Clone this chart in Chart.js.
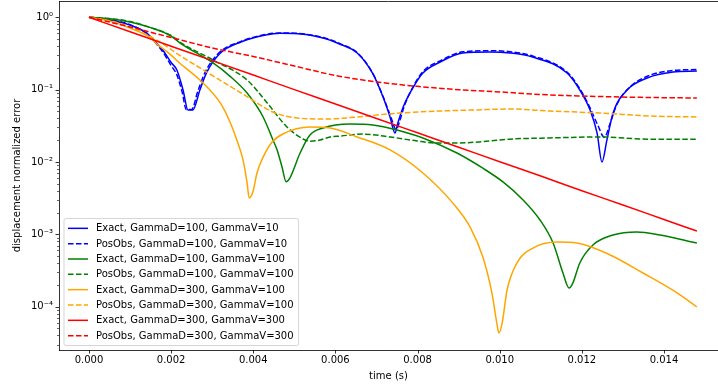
<!DOCTYPE html>
<html>
<head>
<meta charset="utf-8">
<script src="https://cdn.jsdelivr.net/npm/chart.js@4.4.1/dist/chart.umd.min.js"></script>
<style>
  html, body { margin: 0; padding: 0; background: #fff; }
  canvas { display: block; }
</style>
</head>
<body>
<canvas id="errChart" width="718" height="387"></canvas>
<script>
// x tick positions (s) and y decades
var xTicks = [0, 0.002, 0.004, 0.006, 0.008, 0.010, 0.012, 0.014];
var yTicks = [1e-4, 1e-3, 1e-2, 1e-1, 1];
var yTickLabels = ['10\u207B\u2074', '10\u207B\u00B3', '10\u207B\u00B2', '10\u207B\u00B9', '10\u2070'];

var labels = [
  'Exact, GammaD=100, GammaV=10',
  'PosObs, GammaD=100, GammaV=10',
  'Exact, GammaD=100, GammaV=100',
  'PosObs, GammaD=100, GammaV=100',
  'Exact, GammaD=300, GammaV=100',
  'PosObs, GammaD=300, GammaV=100',
  'Exact, GammaD=300, GammaV=300',
  'PosObs, GammaD=300, GammaV=300'
];

// Exact, GammaD=100, GammaV=10
var exactD100V10_t = [0, 0.0005, 0.001, 0.0014, 0.0016, 0.0018, 0.002, 0.00214, 0.00229, 0.00241, 0.00253, 0.0027, 0.00287, 0.0032, 0.0037, 0.0043, 0.00465, 0.005, 0.0057, 0.0061, 0.00653, 0.0069, 0.00716, 0.00733, 0.00745, 0.00752, 0.00765, 0.0079, 0.00813, 0.00855, 0.0091, 0.00976, 0.01025, 0.0108, 0.01164, 0.01195, 0.0122, 0.01237, 0.01249, 0.01261, 0.01276, 0.0131, 0.01359, 0.01422, 0.0148];
var exactD100V10_v = [1, 0.92, 0.78, 0.61, 0.47, 0.35, 0.237, 0.187, 0.099, 0.0523, 0.0523, 0.099, 0.175, 0.321, 0.456, 0.569, 0.60, 0.597, 0.518, 0.428, 0.321, 0.17, 0.079, 0.0419, 0.0252, 0.0346, 0.0576, 0.109, 0.17, 0.241, 0.321, 0.331, 0.321, 0.282, 0.17, 0.0989, 0.0523, 0.0252, 0.01, 0.0201, 0.0475, 0.0989, 0.145, 0.175, 0.181];

// PosObs, GammaD=100, GammaV=10
var posD100V10_t = [0, 0.0005, 0.001, 0.0014, 0.0016, 0.0018, 0.002, 0.00214, 0.00227, 0.00237, 0.0025, 0.00265, 0.00283, 0.00317, 0.0037, 0.0043, 0.00465, 0.005, 0.0057, 0.0061, 0.00653, 0.0069, 0.00716, 0.00735, 0.00748, 0.00756, 0.00768, 0.0079, 0.00813, 0.00855, 0.0091, 0.00976, 0.01025, 0.0108, 0.01164, 0.01195, 0.0122, 0.01238, 0.01255, 0.01268, 0.01285, 0.01315, 0.01359, 0.01422, 0.0148];
var posD100V10_v = [1, 0.93, 0.79, 0.60, 0.46, 0.33, 0.215, 0.16, 0.092, 0.053, 0.053, 0.095, 0.175, 0.325, 0.465, 0.578, 0.607, 0.603, 0.525, 0.435, 0.325, 0.172, 0.08, 0.042, 0.028, 0.036, 0.06, 0.112, 0.178, 0.25, 0.333, 0.345, 0.335, 0.292, 0.175, 0.103, 0.056, 0.033, 0.022, 0.033, 0.062, 0.106, 0.153, 0.184, 0.19];

// Exact, GammaD=100, GammaV=100
var exactD100V100_t = [0, 0.0005, 0.001, 0.0015, 0.002, 0.00222, 0.00302, 0.00343, 0.00385, 0.00424, 0.00448, 0.00458, 0.0047, 0.0048, 0.00489, 0.00514, 0.00538, 0.0057, 0.00635, 0.00691, 0.0075, 0.00813, 0.00896, 0.00959, 0.01008, 0.01057, 0.01098, 0.0113, 0.01154, 0.01169, 0.01178, 0.01195, 0.01227, 0.01276, 0.01334, 0.0139, 0.0148];
var exactD100V100_v = [1, 0.955, 0.861, 0.72, 0.551, 0.441, 0.234, 0.154, 0.0899, 0.0419, 0.0201, 0.0147, 0.00853, 0.00534, 0.006, 0.0133, 0.0236, 0.0295, 0.0335, 0.0325, 0.0277, 0.0215, 0.0133, 0.0082, 0.0053, 0.00298, 0.00158, 0.00076, 0.000292, 0.000181, 0.000212, 0.000402, 0.000713, 0.00098, 0.00108, 0.00098, 0.00076];

// PosObs, GammaD=100, GammaV=100
var posD100V100_t = [0, 0.0005, 0.001, 0.0015, 0.002, 0.00222, 0.00302, 0.00385, 0.00434, 0.00482, 0.00521, 0.00538, 0.00562, 0.00587, 0.00611, 0.00667, 0.00733, 0.00799, 0.00847, 0.00896, 0.00976, 0.01025, 0.01122, 0.01244, 0.01366, 0.0148];
var posD100V100_v = [1, 0.96, 0.875, 0.72, 0.56, 0.45, 0.257, 0.136, 0.0654, 0.0305, 0.0208, 0.0193, 0.0201, 0.0222, 0.0228, 0.0243, 0.0222, 0.0195, 0.0183, 0.0183, 0.0195, 0.0207, 0.0215, 0.0222, 0.0207, 0.0207];

// Exact, GammaD=300, GammaV=100
var exactD300V100_t = [0, 0.0005, 0.001, 0.0015, 0.00163, 0.002, 0.0022, 0.0027, 0.0032, 0.00343, 0.0036, 0.00375, 0.00385, 0.0039, 0.00399, 0.00409, 0.00424, 0.00446, 0.00472, 0.00538, 0.00587, 0.00653, 0.00733, 0.00813, 0.00886, 0.00928, 0.00959, 0.00981, 0.00993, 0.00998, 0.01006, 0.01018, 0.01042, 0.01081, 0.0114, 0.01188, 0.01269, 0.01349, 0.01432, 0.0148];
var exactD300V100_v = [1, 0.889, 0.711, 0.52, 0.44, 0.30, 0.235, 0.136, 0.065, 0.036, 0.0201, 0.0107, 0.00513, 0.00318, 0.00385, 0.00705, 0.0117, 0.0189, 0.0244, 0.0305, 0.0296, 0.0222, 0.0147, 0.00705, 0.0027, 0.00126, 0.000486, 0.000155, 0.0000594, 0.0000433, 0.0000594, 0.00017, 0.000402, 0.000647, 0.000783, 0.00076, 0.000519, 0.000292, 0.000155, 0.000099];

// PosObs, GammaD=300, GammaV=100
var posD300V100_t = [0, 0.0005, 0.001, 0.00166, 0.0022, 0.00302, 0.00385, 0.00448, 0.00507, 0.0058, 0.00653, 0.00701, 0.00757, 0.00855, 0.00935, 0.01025, 0.01122, 0.01244, 0.01366, 0.0148];
var posD300V100_v = [1, 0.9, 0.734, 0.48, 0.30, 0.155, 0.08, 0.049, 0.0406, 0.0393, 0.0419, 0.0446, 0.0475, 0.0507, 0.0523, 0.054, 0.0507, 0.0475, 0.0432, 0.0419];

// Exact, GammaD=300, GammaV=300
var exactD300V300_t = [0, 0.001, 0.002, 0.003, 0.004, 0.005, 0.006, 0.007, 0.008, 0.009, 0.010, 0.011, 0.012, 0.013, 0.014, 0.0148];
var exactD300V300_v = [1, 0.631, 0.398, 0.252, 0.159, 0.1, 0.0635, 0.040, 0.0253, 0.016, 0.0101, 0.0064, 0.0040, 0.00255, 0.0016, 0.00111];

// PosObs, GammaD=300, GammaV=300
var posD300V300_t = [0, 0.0005, 0.001, 0.002, 0.003, 0.004, 0.005, 0.006, 0.007, 0.008, 0.009, 0.010, 0.011, 0.012, 0.013, 0.014, 0.0148];
var posD300V300_v = [1, 0.86, 0.734, 0.526, 0.377, 0.287, 0.212, 0.157, 0.128, 0.111, 0.1, 0.093, 0.0857, 0.0817, 0.079, 0.0775, 0.0767];

var series = [
  [exactD100V10_t, exactD100V10_v, 'blue', false],
  [posD100V10_t, posD100V10_v, 'blue', true],
  [exactD100V100_t, exactD100V100_v, 'green', false],
  [posD100V100_t, posD100V100_v, 'green', true],
  [exactD300V100_t, exactD300V100_v, 'orange', false],
  [posD300V100_t, posD300V100_v, 'orange', true],
  [exactD300V300_t, exactD300V300_v, 'red', false],
  [posD300V300_t, posD300V300_v, 'red', true]
];

var DASH = [5.55, 2.4];
var FONT = { family: '"DejaVu Sans"', size: 10 };

var datasets = series.map(function(s, i) {
  return {
    label: labels[i],
    data: s[0].map(function(t, k) { return { x: t, y: s[1][k] }; }),
    borderColor: s[2],
    backgroundColor: s[2],
    borderWidth: 1.5,
    borderDash: s[3] ? DASH : [],
    borderJoinStyle: 'round',
    fill: false,
    pointRadius: 0,
    cubicInterpolationMode: 'monotone',
    order: series.length - i
  };
});

function isMajorY(v) {
	return yTicks.findIndex(function(t) { return Math.abs(t / v - 1) < 1e-6; });
}

// tick marks + top spine (matplotlib style: major 3.5px, minor 2px)
var axisDecor = {
	id: 'axisDecor',
	afterDraw: function(chart) {
		var ctx = chart.ctx, xs = chart.scales.x, ys = chart.scales.y, a = chart.chartArea;
		ctx.save();
		ctx.strokeStyle = '#000';
		ctx.lineWidth = 0.8;
		xs.ticks.forEach(function(t) {
			var p = Math.round(xs.getPixelForValue(t.value)) + 0.5;
			ctx.beginPath(); ctx.moveTo(p, a.bottom); ctx.lineTo(p, a.bottom + 3.5); ctx.stroke();
		});
		ys.ticks.forEach(function(t) {
			var p = Math.round(ys.getPixelForValue(t.value)) + 0.5;
			var major = isMajorY(t.value) >= 0;
			ctx.lineWidth = major ? 0.8 : 0.6;
			ctx.beginPath(); ctx.moveTo(a.left, p); ctx.lineTo(a.left - (major ? 3.5 : 2), p); ctx.stroke();
		});
		ctx.lineWidth = 0.8;
		ctx.beginPath(); ctx.moveTo(a.left, a.top + 0.5); ctx.lineTo(a.right, a.top + 0.5); ctx.stroke();
		ctx.restore();
	}
};

// legend box in the lower left corner of the axes
var legendBox = {
	id: 'legendBox',
	afterDatasetsDraw: function(chart) {
		var ctx = chart.ctx, a = chart.chartArea;
		var ds = chart.data.datasets;
		var rowH = 15.33, pad = 4;
		ctx.save();
		ctx.font = '10px "DejaVu Sans"';
		var textW = 0;
		ds.forEach(function(d) { textW = Math.max(textW, ctx.measureText(d.label).width); });
		var w = pad + 20 + 8 + textW + pad + 1;
		var h = pad * 2 + rowH * (ds.length - 1) + 11.7;
		var x0 = a.left + 5, y0 = a.bottom - 4.5 - h;
		ctx.beginPath();
		ctx.roundRect(x0, y0, w, h, 2);
		ctx.fillStyle = 'rgba(255,255,255,0.8)';
		ctx.fill();
		ctx.strokeStyle = 'rgba(204,204,204,0.8)';
		ctx.lineWidth = 1;
		ctx.stroke();
		ds.forEach(function(d, i) {
			var cy = y0 + pad + 5.85 + i * rowH;
			ctx.strokeStyle = d.borderColor;
			ctx.lineWidth = 1.5;
			ctx.setLineDash(d.borderDash);
			ctx.beginPath(); ctx.moveTo(x0 + pad, cy); ctx.lineTo(x0 + pad + 20, cy); ctx.stroke();
			ctx.setLineDash([]);
			ctx.fillStyle = '#000';
			ctx.textBaseline = 'middle';
			ctx.fillText(d.label, x0 + pad + 28, cy + 0.5);
		});
		ctx.restore();
	}
};

var ctx = document.getElementById('errChart').getContext('2d');
var errChart = new Chart(ctx, {
	type: 'line',
	data: { datasets: datasets },
	options: {
		responsive: false,
		animation: false,
		devicePixelRatio: 1,
		layout: { padding: { top: 1, right: 0, bottom: 0, left: 0 } },
		plugins: { legend: { display: false }, tooltip: { enabled: false } },
		scales: {
			x: {
				type: 'linear',
				min: -0.00073,
				max: 0.015315,
				afterBuildTicks: function(s) { s.ticks = xTicks.map(function(v) { return { value: v }; }); },
				afterFit: function(s) { s.height = 37; s.paddingLeft = 0; s.paddingRight = 0; },
				ticks: {
					autoSkip: false, maxRotation: 0, padding: 4, color: '#000', font: FONT,
					callback: function(v) { return Number(v).toFixed(3); }
				},
				grid: { display: false, drawTicks: false },
				border: { display: true, color: '#000', width: 0.8 },
				title: { display: true, text: 'time (s)', color: '#000', font: FONT, padding: { top: 0, bottom: 5 } }
			},
			y: {
				type: 'logarithmic',
				min: 2.52e-5,
				max: 1.68,
				afterBuildTicks: function(s) {
					var list = [];
					for (var e = -5; e <= 0; e++) {
						for (var m = 1; m <= 9; m++) {
							var v = m * Math.pow(10, e);
							if (v >= s.min && v <= s.max) list.push({ value: v });
						}
					}
					s.ticks = list;
				},
				afterFit: function(s) { s.width = 59; s.paddingTop = 0; s.paddingBottom = 0; },
				ticks: {
					autoSkip: false, padding: 6, color: '#000', font: FONT,
					callback: function(v) { var k = isMajorY(v); return k >= 0 ? yTickLabels[k] : ''; }
				},
				grid: { display: false, drawTicks: false },
				border: { display: true, color: '#000', width: 0.8 },
				title: { display: true, text: 'displacement normalized error', color: '#000', font: FONT, padding: { top: 11, bottom: 0 } }
			}
		}
	},
	plugins: [axisDecor, legendBox]
});
</script>
</body>
</html>
